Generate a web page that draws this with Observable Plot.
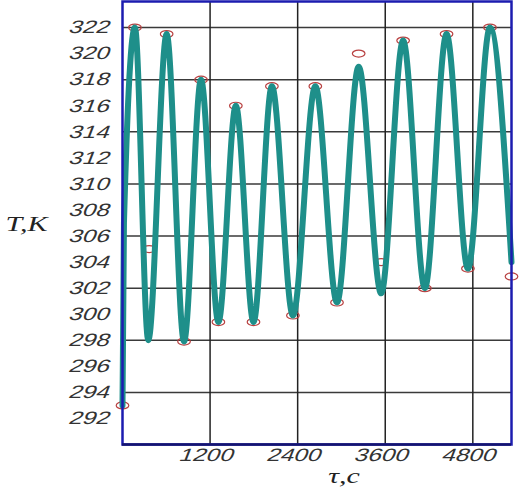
<!DOCTYPE html>
<html>
<head>
<meta charset="utf-8">
<script src="https://cdn.jsdelivr.net/npm/d3@7"></script>
<script src="https://cdn.jsdelivr.net/npm/@observablehq/plot@0.6"></script>
<style>
  html, body { margin: 0; padding: 0; background: white; }
</style>
</head>
<body>
<div id="chart"></div>
<script>
// Curve (time, s  /  temperature, K): start, extrema, end
const curveTime = [0, 20, 170, 353, 605, 843, 1076, 1314, 1553, 1795, 2047, 2335, 2642, 2939, 3236, 3544, 3845, 4143, 4440, 4733, 5035, 5330];
const curveTemp = [293, 307, 322, 298, 321.5, 297.9, 318, 299.4, 316, 299.4, 317.5, 299.9, 317.5, 300.9, 319, 301.6, 321, 302, 321.5, 303.5, 322, 304];

// Marked points (hollow ellipses)
const markTime = [0, 170, 365, 605, 843, 1076, 1314, 1553, 1795, 2047, 2335, 2642, 2939, 3236, 3544, 3845, 4143, 4440, 4733, 5035, 5330];
const markTemp = [293, 322, 305, 321.5, 297.9, 318, 299.4, 316, 299.4, 317.5, 299.9, 317.5, 300.9, 320, 304, 321, 302, 321.5, 303.5, 322, 302.9];

// Ticks and grid
const xTicks = [1200, 2400, 3600, 4800];
const yTicks = [292, 294, 296, 298, 300, 302, 304, 306, 308, 310, 312, 314, 316, 318, 320, 322];
const gridX = [1200, 2400, 3600, 4800];
const gridY = [294, 298, 302, 306, 310, 314, 318, 322];
const yTitle = "T,K";
const xTitle = "τ,c";

const curve = curveTime.map((t, i) => ({t, T: curveTemp[i]}));
const marks = markTime.map((t, i) => ({t, T: markTemp[i]}));

const ellipse = {
  draw(ctx, size) {
    const r = Math.sqrt(size / Math.PI);
    const rx = r * 1.4, ry = r * 0.78, k = 0.5523;
    ctx.moveTo(rx, 0);
    ctx.bezierCurveTo(rx, ry * k, rx * k, ry, 0, ry);
    ctx.bezierCurveTo(-rx * k, ry, -rx, ry * k, -rx, 0);
    ctx.bezierCurveTo(-rx, -ry * k, -rx * k, -ry, 0, -ry);
    ctx.bezierCurveTo(rx * k, -ry, rx, -ry * k, rx, 0);
    ctx.closePath();
  }
};

const svg = Plot.plot({
  width: 520,
  height: 489,
  marginLeft: 122,
  marginRight: 9,
  marginTop: 1,
  marginBottom: 45,
  style: {background: "white", fontFamily: "'Liberation Sans', Arial, sans-serif", fontSize: "18px", color: "#333"},
  x: {domain: [0, 5330], ticks: xTicks, tickSize: 0, tickPadding: 4, tickFormat: d => String(d), label: null},
  y: {domain: [290, 324], ticks: yTicks, tickSize: 0, tickPadding: 12, tickFormat: d => String(d), label: null},
  marks: [
    Plot.ruleY(gridY, {stroke: "#3a3a3a", strokeWidth: 1.5}),
    Plot.ruleX(gridX, {stroke: "#222", strokeWidth: 1.5}),
    Plot.dot(marks, {x: "t", y: "T", symbol: ellipse, r: 4.5, stroke: "#b84040", strokeWidth: 1.2, fill: "none"}),
    Plot.line(curve, {x: "t", y: "T", curve: "monotone-x", stroke: "#1e8f8a", strokeWidth: 6, strokeLinejoin: "round"}),
    Plot.frame({stroke: "#1c1cb0", strokeWidth: 2.5}),
    Plot.ruleY([290], {stroke: "#14146e", strokeWidth: 2.5}),
    Plot.text([yTitle], {frameAnchor: "left", dx: -96, dy: 2, text: d => d, textAnchor: "middle", fontFamily: "'Liberation Serif', serif", fontStyle: "italic", fontSize: 20, fill: "#222"}),
    Plot.text([xTitle], {frameAnchor: "bottom", dx: 27, dy: 38, text: d => d, textAnchor: "middle", fontFamily: "'Liberation Serif', serif", fontStyle: "italic", fontSize: 20, fill: "#222"})
  ]
});

// stretch (and optionally slant) a text element about its anchor point
function stretch(el, s, skew) {
  const t = el.getAttribute("transform") || "";
  const xa = el.getAttribute("x");
  let x = 0;
  if (xa !== null && /^-?[\d.]+(px)?$/.test(xa.trim())) { x = parseFloat(xa); el.removeAttribute("x"); }
  el.setAttribute("transform", `${t} translate(${x},0) scale(${s},1)` + (skew ? ` skewX(${skew})` : ""));
}

d3.select(svg).selectAll("g[aria-label='x-axis tick label'] text, g[aria-label='y-axis tick label'] text")
  .each(function() { stretch(this, 1.35, -16); });
d3.select(svg).selectAll("text")
  .filter(function() { return this.textContent === yTitle || this.textContent === xTitle; })
  .each(function() { stretch(this, 1.5, 0); });

document.getElementById("chart").appendChild(svg);
</script>
</body>
</html>
